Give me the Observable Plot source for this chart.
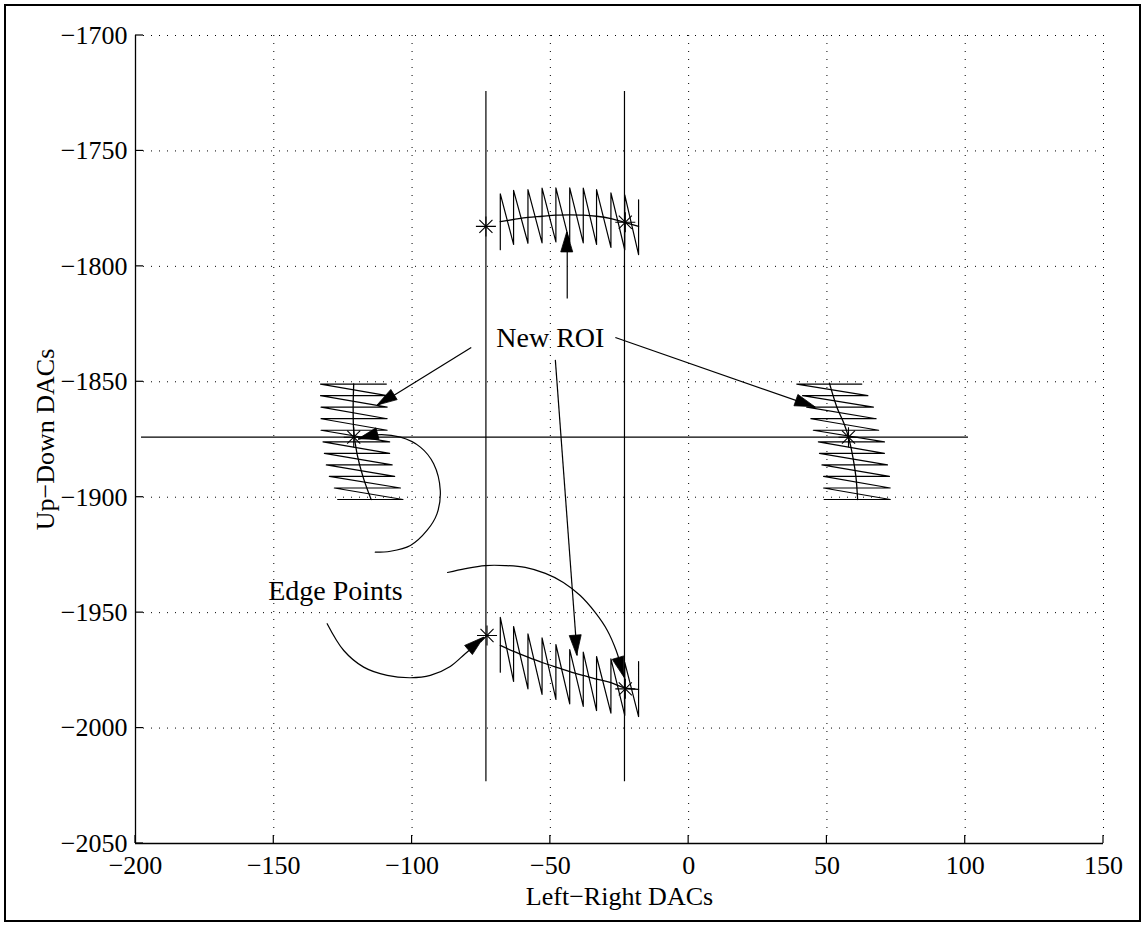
<!DOCTYPE html>
<html><head><meta charset="utf-8">
<script src="https://cdn.jsdelivr.net/npm/d3@7"></script>
<script src="https://cdn.jsdelivr.net/npm/@observablehq/plot@0.6"></script>
<style>
html,body{margin:0;padding:0;background:#fff;}
#wrap{position:relative;width:1145px;height:926px;}
#frame{position:absolute;left:4px;top:4px;width:1133px;height:914px;border:2px solid #000;pointer-events:none;}
</style></head><body><div id="wrap"><div id="frame"></div></div>
<script>
// ---- axes ----
const xDomain = [-200, 150];
const yDomain = [-2050, -1700];
const xTicks = [-200, -150, -100, -50, 0, 50, 100, 150];
const xTickLabels = ["\u2212200", "\u2212150", "\u2212100", "\u221250", "0", "50", "100", "150"];
const yTicks = [-2050, -2000, -1950, -1900, -1850, -1800, -1750, -1700];
const yTickLabels = ["\u22122050", "\u22122000", "\u22121950", "\u22121900", "\u22121850", "\u22121800", "\u22121750", "\u22121700"];
const xLabel = "Left\u2212Right DACs";
const yLabel = "Up\u2212Down DACs";

// ---- crosshair ----
const hLineX = [-198, 101];
const hLineY = -1874;
const vLineX = [-73.3, -23.2];
const vLineY = [-1724, -2023];

// ---- top ROI zigzag (vertical scans) ----
const topZigX = [-68.1, -63.3, -58.1, -53.0, -48.0, -43.0, -38.1, -33.3, -28.1, -23.1, -18.1];
const topZigHigh = [-1768.6, -1767.1, -1766.8, -1766.1, -1766.0, -1766.0, -1766.1, -1766.8, -1768.2, -1769.0, -1771.2];
const topZigLow = [-1792.8, -1790.5, -1790.0, -1789.8, -1789.4, -1789.8, -1789.8, -1790.5, -1791.8, -1792.8, -1794.9];
const topArcY = [-1780.6, -1779.7, -1778.8, -1778.3, -1777.8, -1777.7, -1777.8, -1778.3, -1779.3, -1780.9, -1782.7];

// ---- bottom ROI zigzag ----
const botZigX = [-68.1, -63.3, -58.1, -53.0, -48.0, -43.0, -38.1, -33.3, -28.1, -23.1, -18.1];
const botZigHigh = [-1952.0, -1956.0, -1959.2, -1960.9, -1963.8, -1966.0, -1967.1, -1969.0, -1970.0, -1971.5, -1971.2];
const botZigLow = [-1975.8, -1979.8, -1983.0, -1985.4, -1987.6, -1989.5, -1990.6, -1992.4, -1993.5, -1994.5, -1995.0];
const botArcY = [-1964.2, -1966.8, -1969.3, -1971.6, -1973.6, -1975.5, -1977.2, -1978.8, -1980.3, -1982.6, -1983.2];

// ---- left ROI zigzag (horizontal scans) ----
const sideZigY = [-1851, -1856, -1861, -1866, -1871, -1876, -1881, -1886, -1891, -1896, -1901];
const leftZigLeft = [-133.1, -133.1, -132.9, -132.9, -132.9, -132.2, -131.7, -131.0, -129.9, -128.1, -126.9];
const leftZigRight = [-109.3, -109.0, -109.0, -109.0, -109.0, -108.1, -108.1, -107.2, -106.3, -104.2, -103.3];
const leftArcX = [-121.1, -121.3, -121.1, -119.9, -117.7, -114.8];
const leftArcY = [-1850.9, -1861, -1871.1, -1881.2, -1891.3, -1901];

// ---- right ROI zigzag ----
const rightZigLeft = [39.1, 41.2, 42.7, 44.2, 45.1, 46.9, 47.3, 48.2, 48.8, 48.8, 49.0];
const rightZigRight = [62.6, 64.8, 66.8, 67.8, 68.7, 70.8, 70.8, 71.9, 72.6, 72.9, 72.9];
const rightArcX = [50.9, 53.6, 56.2, 57.8, 59.4, 60.5, 61.1];
const rightArcY = [-1850.6, -1861, -1868.2, -1874, -1882.7, -1891.3, -1901];

// ---- edge points (stars) ----
const starX = [-73.3, -22.9, -121.1, 57.8, -72.9, -22.9];
const starY = [-1782.7, -1780.9, -1874, -1874, -1959.9, -1983.0];

// ---- annotations ----
const noteText = ["New ROI", "Edge Points"];
const noteX = [-50.0, -127.7];
const noteY = [-1831.1, -1940.8];

// straight arrows: start -> tip
const arrowX1 = [-78.6, -26.5, -48.2, -43.9];
const arrowY1 = [-1835.1, -1830.8, -1840.5, -1813.9];
const arrowX2 = [-112.5, 45.8, -40.3, -43.9];
const arrowY2 = [-1860.3, -1861.0, -1968.6, -1785.3];

// curved arrows (tip given separately)
const loopX = [-113.3, -107.8, -100.6, -94.6, -91.0, -89.8, -92.2, -97.0, -104.2, -113.3];
const loopY = [-1923.8, -1923.4, -1920.9, -1914.4, -1907.2, -1897.1, -1885.5, -1878.3, -1874.0, -1873.0];
const loopTip = [-119.3, -1874.9];
const curve1X = [-130.7, -124.7, -117.5, -109.0, -100.6, -93.4, -86.2, -80.7];
const curve1Y = [-1954.8, -1966.4, -1973.6, -1977.2, -1978.2, -1977.2, -1973.3, -1967.7];
const curve1Tip = [-73.9, -1960.8];
const curve2X = [-87.2, -80.7, -73.5, -66.3, -59.1, -51.8, -45.3, -39.2, -33.8, -29.4, -26.2];
const curve2Y = [-1932.6, -1930.9, -1929.6, -1929.6, -1930.4, -1933.0, -1936.9, -1942.6, -1949.9, -1957.7, -1966.4];
const curve2Tip = [-23.3, -1978.0];

// ---- build tables ----
function vZig(xs, hi, lo, id) {
  const p = [];
  xs.forEach((x, i) => { p.push({x, y: lo[i], id}); p.push({x, y: hi[i], id}); });
  return p;
}
function hZig(ys, left, right, id) {
  const p = [];
  ys.forEach((y, i) => { p.push({x: right[i], y, id}); p.push({x: left[i], y, id}); });
  return p;
}
const zigs = [
  ...vZig(topZigX, topZigHigh, topZigLow, "top"),
  ...vZig(botZigX, botZigHigh, botZigLow, "bot"),
  ...hZig(sideZigY, leftZigLeft, leftZigRight, "left"),
  ...hZig(sideZigY, rightZigLeft, rightZigRight, "right")
];
const arcs = [
  ...topZigX.map((x, i) => ({x, y: topArcY[i], id: "top"})),
  ...botZigX.map((x, i) => ({x, y: botArcY[i], id: "bot"})),
  ...leftArcX.map((x, i) => ({x, y: leftArcY[i], id: "left"})),
  ...rightArcX.map((x, i) => ({x, y: rightArcY[i], id: "right"}))
];
const cross = [
  {x1: hLineX[0], x2: hLineX[1], y1: hLineY, y2: hLineY},
  ...vLineX.map(x => ({x1: x, x2: x, y1: vLineY[0], y2: vLineY[1]}))
];
const stars = starX.map((x, i) => ({x, y: starY[i]}));
const notes = noteText.map((t, i) => ({t, x: noteX[i], y: noteY[i]}));
const arrows = arrowX1.map((x1, i) => ({x1, y1: arrowY1[i], x2: arrowX2[i], y2: arrowY2[i]}));
function curvePts(xs, ys, tip, id) {
  return [...xs.map((x, i) => ({x, y: ys[i], id})), {x: tip[0], y: tip[1], id}];
}
const curves = [
  ...curvePts(loopX, loopY, loopTip, "loop"),
  ...curvePts(curve1X, curve1Y, curve1Tip, "c1"),
  ...curvePts(curve2X, curve2Y, curve2Tip, "c2")
];
const heads = [
  ...arrows,
  {x1: loopX[loopX.length - 1], y1: loopY[loopY.length - 1], x2: loopTip[0], y2: loopTip[1]},
  {x1: curve1X[curve1X.length - 1], y1: curve1Y[curve1Y.length - 1], x2: curve1Tip[0], y2: curve1Tip[1]},
  {x1: curve2X[curve2X.length - 1], y1: curve2Y[curve2Y.length - 1], x2: curve2Tip[0], y2: curve2Tip[1]}
];

const ink = "#000";
const chart = Plot.plot({
  width: 1145, height: 926,
  marginLeft: 135, marginRight: 42, marginTop: 35, marginBottom: 83,
  style: {fontFamily: "'Liberation Serif', 'Times New Roman', serif", fontSize: "26px", background: "transparent", color: ink, overflow: "visible"},
  x: {domain: xDomain, ticks: xTicks, tickSize: 0, tickPadding: 12, label: null,
      tickFormat: d => xTickLabels[xTicks.indexOf(d)]},
  y: {domain: yDomain, ticks: yTicks, tickSize: 0, tickPadding: 8, label: null,
      tickFormat: d => yTickLabels[yTicks.indexOf(d)]},
  marks: [
    Plot.ruleX(xTicks.slice(1), {stroke: ink, strokeWidth: 1, strokeDasharray: "1,7"}),
    Plot.ruleY(yTicks.slice(1), {stroke: ink, strokeWidth: 1, strokeDasharray: "1,7"}),
    Plot.ruleX([xDomain[0]], {stroke: ink, strokeWidth: 1.3}),
    Plot.ruleY([yDomain[0]], {stroke: ink, strokeWidth: 1.3}),
    // inward ticks
    (index, scales) => {
      const g = d3.create("svg:g").attr("stroke", ink).attr("stroke-width", 1.2);
      const x0 = scales.x(xDomain[0]), y0 = scales.y(yDomain[0]);
      xTicks.forEach(t => g.append("line").attr("x1", scales.x(t)).attr("x2", scales.x(t)).attr("y1", y0).attr("y2", y0 - 8));
      yTicks.forEach(t => g.append("line").attr("x1", x0).attr("x2", x0 + 8).attr("y1", scales.y(t)).attr("y2", scales.y(t)));
      return g.node();
    },
    Plot.link(cross, {x1: "x1", y1: "y1", x2: "x2", y2: "y2", stroke: ink, strokeWidth: 1.2}),
    Plot.line(zigs, {x: "x", y: "y", z: "id", stroke: ink, strokeWidth: 1.2}),
    Plot.line(arcs, {x: "x", y: "y", z: "id", stroke: ink, strokeWidth: 1.3, curve: "catmull-rom"}),
    Plot.dot(stars, {x: "x", y: "y", symbol: "times", r: 6, stroke: ink, strokeWidth: 1.1}),
    Plot.dot(stars, {x: "x", y: "y", symbol: "plus", r: 6.5, stroke: ink, strokeWidth: 1.1}),
    Plot.link(arrows, {x1: "x1", y1: "y1", x2: "x2", y2: "y2", stroke: ink, strokeWidth: 1.2}),
    Plot.line(curves, {x: "x", y: "y", z: "id", stroke: ink, strokeWidth: 1.2, curve: "catmull-rom"}),
    // filled arrowheads
    (index, scales) => {
      const g = d3.create("svg:g").attr("fill", ink).attr("stroke", ink).attr("stroke-width", 0.8);
      const L = 20, W = 6;
      heads.forEach(h => {
        const tx = scales.x(h.x2), ty = scales.y(h.y2);
        const fx = scales.x(h.x1), fy = scales.y(h.y1);
        const dx = tx - fx, dy = ty - fy, d = Math.hypot(dx, dy) || 1;
        const ux = dx / d, uy = dy / d;
        const bx = tx - L * ux, by = ty - L * uy;
        g.append("path").attr("d",
          `M${tx},${ty}L${bx - W * uy},${by + W * ux}L${bx + W * uy},${by - W * ux}Z`);
      });
      return g.node();
    },
    Plot.text(notes, {x: "x", y: "y", text: "t", fontSize: 28, fill: ink}),
    Plot.text([xLabel], {frameAnchor: "bottom", dy: 53, lineAnchor: "middle", textAnchor: "middle", fill: ink}),
    Plot.text([yLabel], {frameAnchor: "left", dx: -90, rotate: -90, lineAnchor: "middle", textAnchor: "middle", fill: ink})
  ]
});
document.getElementById("wrap").prepend(chart);
</script></body></html>
